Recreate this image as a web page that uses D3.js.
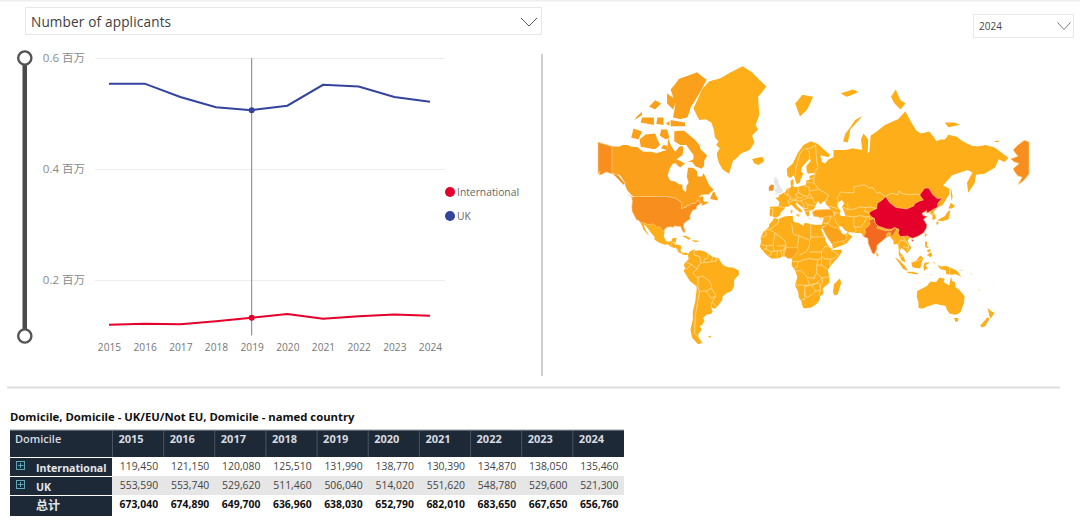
<!DOCTYPE html>
<html><head><meta charset="utf-8">
<script src="https://cdn.jsdelivr.net/npm/d3@7"></script>
<style>
html,body{margin:0;padding:0;background:#fff;overflow:hidden}
svg{display:block}
text{font-family:"Open Sans","Noto Sans CJK SC",sans-serif}
</style></head><body>
<svg id="c" width="1080" height="529"></svg>
<script>
const years=[2015,2016,2017,2018,2019,2020,2021,2022,2023,2024];
const international=[119450,121150,120080,125510,131990,138770,130390,134870,138050,135460];
const uk=[553590,553740,529620,511460,506040,514020,551620,548780,529600,521300];
const totals=[673040,674890,649700,636960,638030,652790,682010,683650,667650,656760];
const yTicks=[0.2,0.4,0.6];
const selectedYear=2019;
const measureLabel="Number of applicants";
const yearLabel="2024";
const tableTitle="Domicile, Domicile - UK/EU/Not EU, Domicile - named country";
const tierColors={base:"#FDAE19",mid:"#FAA31A",canada:"#FAA01A",usa:"#F78E1E",india:"#F2691F",china:"#E4002B",ireland:"#F78E1E",none:"#E6E6E6",pale:"#FEDC96"};

// Hand-estimated geographic outlines [name, tier, "lon,lat ..."]
const landShapes=[
["Greenland","base","-73,78.2 -66,81 -60,82 -50,82.4 -42,83 -32,83.6 -24,83 -12,81.4 -19,80 -18,77 -21,75 -19,74 -24,72.5 -22,70.7 -26,68.5 -33,67.5 -37,65.8 -40,65 -42,62 -43,60 -46,60.8 -49,62 -51.5,64 -53,66 -53.5,67.5 -51,69 -54,70 -52,71 -55,72 -56,74 -58,75.5 -63,76.2 -68,76"],
["Canada","canada","-141,69.6 -135,69.5 -132,70 -128,70 -125,69.5 -120,69.4 -115,68 -108,68 -104,67.5 -100,68 -95,68.5 -94,71.9 -92,70 -90,68.8 -88,68 -85,69.5 -82,69.7 -81.5,68.5 -82,67 -87,65.5 -86,64 -90,64 -93,62 -94.5,59 -92.5,57 -88,56.5 -85,55.3 -82.3,55 -82,52.9 -79.5,51.3 -79,52 -78.8,54.5 -77,56 -78.5,58.7 -77.5,62.4 -73,62.3 -70,61 -69.5,58.8 -66,58.7 -64.5,60.3 -62,57.5 -60,55 -56,52.5 -58.5,51.3 -60,50.2 -66,50 -69,48.5 -65,49.2 -64.5,48 -65,47 -64,46 -61,46 -60,46.5 -61,45.3 -66,43.7 -66,45 -67.5,45.3 -69.2,47.4 -71,45.3 -74.7,45 -76.5,44 -79,43.5 -79,42.8 -83,42 -82.5,45.3 -84.5,46.5 -88.5,48.2 -95,49 -123,49 -125,50 -128,52 -130,54.5 -130,56 -133.5,58.8 -135.5,59.7 -137.5,59 -139,60 -141,60.3"],
["Baffin","canada","-61.5,66.7 -64,65 -64,63.3 -66,62 -71,62.8 -74,64.5 -78,64.5 -73,65.5 -73,67 -76,68.5 -79,70 -84,70 -89,71 -89,73.5 -85,73.7 -81,73.7 -77,72.8 -72,71.5 -68,70 -67,68.7 -63,67.3"],
["Ellesmere","canada","-90,76.5 -84,76.2 -78,76.5 -75,78.5 -68,80.5 -62,82.2 -70,83 -85,82.3 -92,81 -88,79"],
["Devon","canada","-92,76 -80,75.5 -80,74.7 -92,74.7"],
["Banks","canada","-125,72 -123,74.2 -116,73.5 -119,71.5"],
["Victoria","canada","-117,69.5 -105,68.7 -101,70 -105,73 -113,72.8 -118,71.5"],
["Somerset","canada","-100,74 -95,74 -93,72 -96,71.5 -101,72.5"],
["Melville","canada","-117,75.5 -106,75 -106,76.5 -116,76.5"],
["Prince Patrick","canada","-122,76 -116,77 -116,77.6 -120,76.8"],
["Bathurst","canada","-104,75.2 -98,75 -98,76.5 -103,76.5"],
["Cornwallis","canada","-96,75.3 -93,74.8 -93,75.8"],
["King William","canada","-100,69 -95,68.5 -95,69.8 -98,70"],
["Axel Heiberg","canada","-95,80.5 -87,79.5 -90,78 -95,79"],
["Ellef Ringnes","canada","-110,78.5 -105,78 -100,79 -105,79.5"],
["Southampton","canada","-87,65.5 -80,64 -84,62.5 -87,63.5"],
["Newfoundland","canada","-59,47.7 -53,46.7 -52.7,47.6 -55.5,51.5 -57,51"],
["Vancouver","canada","-128,50.7 -123.5,48.4 -125,48.8"],
["Alaska","usa","-141,69.6 -141,60.3 -139,59.9 -135.5,59.2 -130,55.5 -131.5,55 -134,56.5 -137,58.3 -140,59.7 -146,60.7 -150,59.5 -152,59.5 -151,61 -154,59 -157,57 -162,55 -158.5,58.5 -162,59 -165,61 -166,62 -161,64 -165,64.5 -168,65.6 -162,66.5 -166,68.5 -162,70 -156.5,71.3 -150,70.5"],
["Hawaii","pale","-156,20.2 -155,19.7 -155.7,19"],
["United States","usa","-123,49 -95,49 -88.5,48.2 -84.5,46.5 -82.5,45.3 -83,42 -79,42.8 -79,43.5 -76.5,44 -74.7,45 -71,45.3 -69.2,47.4 -67.5,45.3 -67,44.8 -70,43.7 -70.5,41.7 -74,40.6 -75.5,38 -76,36.9 -75.5,35.2 -78,33.9 -81,32 -81.3,30 -80,27 -80.3,25.2 -81.8,26 -82.8,28 -84,30 -85.5,29.8 -89,30.3 -89.5,29.2 -92,29.6 -94.5,29.5 -97.2,27.7 -97.2,25.9 -99.5,27.5 -101.4,29.8 -103,29 -104.7,30 -106.5,31.8 -108.2,31.3 -111,31.3 -114.8,32.5 -117.2,32.5 -118.5,34 -120.6,34.6 -122,36.8 -124.2,40.2 -124.5,43 -124,46.5 -124.7,48.4"],
["Mexico and Central America","base","-117.2,32.5 -114.8,32.5 -111,31.3 -108.2,31.3 -106.5,31.8 -104.7,30 -103,29 -101.4,29.8 -99.5,27.5 -97.2,25.9 -97.8,22.4 -96,19 -94.5,18.2 -91.5,18.6 -90.5,21 -87,21.5 -87.8,18.3 -88.5,16 -86,15.9 -83.2,15 -83.7,11 -82.5,9.3 -79.8,9.5 -77.4,8.6 -78,7.5 -80,7.4 -83,8.3 -85.7,10 -87.5,13 -91.5,14 -94.5,16.2 -97,15.9 -101.5,17.5 -105.5,20 -105.5,22 -109,26 -112.5,30 -114.7,31.5 -113,27.5 -110,23.2 -112,24.7 -115,28 -116,30.5"],
["Cuba","base","-85,21.9 -80,23.2 -75,20.7 -77.5,19.9 -78,20.7 -82,22.5"],
["Hispaniola","base","-74.4,19.7 -69,19 -68.5,18.4 -71.5,17.8"],
["South America","base","-77.4,8.6 -75.5,10.7 -72,12.2 -71,11 -68,11.5 -64,10.5 -60.5,8.5 -57,6 -52,4.7 -50,1.5 -48,-1 -44,-2.7 -40,-3 -35.2,-5.5 -35,-9 -39,-13 -39,-18 -41,-22 -45,-23.5 -48.5,-26 -49,-29 -53.5,-34 -55,-35 -58.3,-34 -57,-36.5 -58,-38.4 -62,-39 -65,-41 -63.7,-42.7 -65.5,-45 -67.5,-46 -66,-48 -69,-50.5 -68.5,-52.5 -65.5,-54.8 -69,-55.5 -74,-52.5 -75.5,-48 -73.5,-42 -73.5,-37 -71.5,-30 -70.2,-20 -70.5,-18.3 -76,-14 -81,-6 -80,-3 -81,-1 -80,1 -78.5,2.5 -77,4 -77.5,7 -78,7.5"],
["Falkland","base","-61,-51.5 -58,-51.3 -59,-52.3"],
["Africa","base","-5.8,35.8 -2,35.1 3,36.9 10,37.3 10.2,34.3 11,33.2 15,32.3 19,30.3 20,32.5 25,31.7 29,31 32,31.2 34.2,31.2 34.9,29.5 34,27.8 33,28.5 32.5,30 35.5,24 37,21 37.5,18.5 39.5,15.3 43,12.2 43.2,11.5 51,12 50.8,9.5 47,4.5 42,-1 39.3,-5 40.5,-11 40.5,-15.5 35,-20 35.5,-24 32.8,-26 32.5,-28.5 30,-31.5 26,-34 20,-34.8 18.4,-34 17,-29.5 15,-27 14.5,-22.5 11.8,-17.5 13.8,-11 12.2,-6 9,-1 9.5,3.8 8.5,4.6 5.5,4.7 4,6.3 1,6 -2,4.8 -7.5,4.4 -10,6 -13.3,9 -15,11 -16.8,13 -17.4,14.7 -16.3,19 -17,21 -14.5,26 -10,29.5 -9.7,31.5 -6.8,34"],
["Madagascar","base","49.3,-12 50.5,-15.5 47.5,-24.5 45,-25.5 43.5,-23 44.5,-16.5"],
["Eurasia","base","-9,37 -9.4,38.8 -9,43 -1.8,43.4 -1.2,46 -4.7,48.3 -1.5,48.7 -1.5,49.7 1.6,50.8 3.8,51.4 5,53 8.5,53.8 8.2,55.5 8.2,57 10.5,57.7 10.5,55 11,54 14,54 18.5,54.7 21,55 21.2,57 24,57.2 24,59 28,59.7 30,60 25,60.2 22.5,60 21.5,61.5 21.3,63 25,65 24.2,65.8 21.5,64.5 17.5,62.5 17,61 18.8,60 16.5,57.5 16,56.2 14.3,55.5 13,55.5 11.5,58.5 10.5,59.3 8,58.1 5.5,59 5,62 10,64 14,67.5 19,70 25,71 31,70.3 41,67 40,66.2 33,66.8 34.5,64.5 37,64 40,65.5 44,66.2 44,68.5 54,68.5 60,69 68,68.5 67,71.5 69,73 73,71.5 72.5,67.5 74,68 75,72.5 80,73.5 87,75 98,76.2 104,77.7 113,73.8 117,73 124,73.5 128,72 130,71 133,71.5 137,71.5 140,72.7 147,72.2 152,71 160,69.7 165,69.6 171,70 178,69.3 180,68.9 -175,67.5 -170,66 -173,64.5 -178,65.5 179,62.5 170,60 163,59.5 162,56 156.5,51 155.5,56 160,60.5 156,61.5 143,59.3 135.5,54.7 141,53 140.5,50 135,44 130.7,42.5 127.5,39.8 129.4,37 129.3,35.2 126.5,34.5 126.7,37.5 125,38 125,39.7 121.5,39 122,40.7 118,39 119,37.3 122.5,37 119.3,35 122,31 121.5,28.5 119,25 114,22.3 110,21 108,21.6 105.8,19 109,13.5 107,10.5 105,8.7 104.8,10 100.5,13.5 99.3,10 103,5.5 104,1.5 101,2.8 98.5,8 98.5,12 97.5,16.5 94.3,16 94,19 91,22.5 88,21.7 86,20 80.3,15.5 80,12 78,8.2 76.5,9 73,17 72.7,21 69,22.3 67,25 61.5,25.2 57,25.7 54,26.7 50.7,30 48.5,30 50,26.5 51.5,24.5 54,24 56.3,26 56.8,24 59.8,22.5 55,17 52,15.7 43.5,12.7 42.7,16.5 39,21.5 35,28 34.9,29.5 34.2,31.2 35.9,36 32.5,36.1 30.5,36.7 27.5,37 26.3,39.5 29,41 31.5,41.2 36,41.3 41.6,41.5 38,44.5 37,46 39,47 35,46 33.5,44.5 30.8,46.5 28,42 26,40.8 23.5,40.3 24,38 22.8,36.6 21,38 19.5,41.5 18.5,42.4 14,45 12.4,45.4 13.5,43.5 18.5,40.2 16.5,39.9 15.7,38 16,39.5 15,40.2 12.2,41.8 8.8,44.4 6,43.1 3.2,43 3.2,41.8 0,39.8 -0.4,38 -2.2,36.7 -5.4,36.1 -6.5,36.9"],
["Great Britain","none","-5.5,50.1 1.4,51.2 1.7,52.7 0,53.5 -1.8,55.7 -2,57.6 -4,57.6 -3.2,58.6 -5,58.6 -6,56.5 -4.8,54.8 -3,54 -4.8,53 -5,51.7 -3,51.4"],
["Ireland","ireland","-10,52 -6.2,52.2 -6,53.8 -5.6,54.8 -8,55.2 -10,54"],
["Iceland","base","-24,65.5 -22,64 -18.5,63.4 -14,64.8 -15,66.3 -20,66"],
["Svalbard","base","12,79 16,76.7 22,78 27,80 18,80.3"],
["Franz Josef","base","50,80.5 60,81 65,80.7 55,80"],
["Novaya Zemlya","base","52,71 56,70.7 58,74 68,76.8 62,76 54,73"],
["Severnaya Zemlya","base","92,80 96,81 100,79.5 104,79 100,78 95,79"],
["New Siberian","base","137,75.5 145,75.5 150,75 140,74.5"],
["Wrangel","base","178.5,71 -178,71.2 -178,70.8 179,70.8"],
["Sicily","mid","12.5,38 15.6,38.2 15,36.7"],
["Sardinia","mid","8.3,41 9.7,41 9.5,39.1 8.5,39"],
["Crete","base","23.6,35.6 26.3,35.2 24,35"],
["Cyprus","base","32.4,35 34.5,35.6 33.5,34.6"],
["Honshu","base","130.9,34 135,33.6 140,35 141,38 141.5,41 140,40.5 136.8,37 132,35"],
["Hokkaido","base","140,42 143,42 145.5,43.5 142,45.5"],
["Kyushu","base","130,33.5 131.8,33 131,31 130,31.5"],
["Sakhalin","base","142,54.3 143.5,49 142.7,46.5 142,50"],
["Taiwan","base","121,25 122,24 120.8,22 120,23.5"],
["Hainan","china","109,20 111,19.7 109.7,18.2"],
["Luzon","base","120.5,18.5 122.2,18.3 122,15 124,13 120.6,13.8"],
["Visayas","base","122,11.5 125,12.5 125,10.5 123,9.5"],
["Mindanao","base","122,7.5 125.5,9.8 126.5,7 125,5.7"],
["Sumatra","base","95.3,5.5 98,4 104,-2 106,-5.9 102,-4 98.7,1"],
["Java","base","105.5,-6.5 110,-6.5 114.5,-7.7 114.5,-8.7 106,-7.5"],
["Borneo","base","109,1.5 111,1.7 113,3 116.5,7 119,5 117.7,1 116.5,-3.5 114,-3.5 110,-2.8"],
["Sulawesi","base","119.5,-5.5 119,-2.5 120,1 125,1.5 121,-1 123,-4.5 121,-4 120.5,-5.5"],
["New Guinea","base","131,-1 134,-2 138,-1.7 145,-4.5 147.5,-6 150.7,-10.5 146,-8.5 143,-9 138,-8.3 138,-5.5 133,-4"],
["Timor","pale","124,-9.7 127,-8.4 125,-8.6"],
["Flores","pale","119.5,-8.7 123,-8.3 122,-8.9"],
["Halmahera","base","127.5,1.8 128.5,1 128.2,-0.8"],
["Seram","pale","128,-3 130.5,-3.3 129,-3.5"],
["New Britain","pale","148,-5.8 152,-4.2 151.5,-5.5"],
["Solomon","pale","157,-7.5 160,-9.5 159,-8"],
["New Caledonia","pale","164,-20 167,-22 165.5,-21.7"],
["Fiji","pale","177.3,-18 178.6,-17.5 178.2,-18.3"],
["Australia","base","114,-22 113.5,-26 115,-31 115,-34.3 118,-35 124,-33 129,-31.6 134,-32.5 137.8,-33 138.5,-35.5 141,-38.3 146.3,-39 150,-37.4 153,-31 153.5,-26 149,-21 146,-19 145.5,-15 143,-14 142.5,-10.8 141.5,-13 140.8,-17.5 136,-15 136.7,-12.2 132.5,-11.3 129.5,-15 125,-14.5 122,-18"],
["Tasmania","base","144.7,-41 148.3,-41 148,-43 146,-43.6"],
["NZ North","base","172.8,-34.5 175.5,-36.5 178.5,-37.7 175.3,-41.6 174,-39.3"],
["NZ South","base","172.7,-40.5 174.3,-41.7 170.8,-45.9 168,-46.7 166.5,-45.8"],
["Sri Lanka","base","80,9.7 81.8,7.5 80.5,6 79.8,7.5"],
["Turkey","mid","26.2,40 29,41 31.5,41.2 36,41.3 41.6,41.5 44,40 44.8,37.3 42,37.2 36.5,36.7 35.9,36 32.5,36.1 30.5,36.7 27.5,37"],
["Saudi Arabia","mid","35,28 34.9,29.5 37,30 39,32 44,29 46.5,29 48,28.5 50,26.5 51.2,24.5 55,22.7 55,20 52,19 49,18.5 44,17.5 43,16.5 42.7,16.5 39,21.5"],
["Nigeria","mid","2.7,6.3 3.7,12 4,13.5 14,13.5 14.5,11 12,7 8.7,4.7 5.5,4.7 4,6.3"],
["China","china","73.5,39.5 80,42 80.5,45 85.5,47.5 87.5,49 91,45.5 96,42.7 105,41.7 111,43.5 111.8,45 116,46.5 119,47 116,49.8 120,53.3 123.5,53.5 127,50 131,47.7 135,48.4 131,45 131,42.7 128,41.7 124.3,40 121.5,39 122,40.7 118,39 119,37.3 122.5,37 119.3,35 122,31 121.5,28.5 119,25 114,22.3 110,21 108,21.6 106,22.8 102,22.4 99.5,22.5 98,25 98.7,27.8 95,29 92,27.8 88.5,28 81,30.3 78.7,32.5 78,35.5 75,37"],
["India","india","74,34.5 78,35.5 78.7,32.5 81,30.3 80.2,28.8 88,26.5 88.5,28 89,26.8 92,26.8 95,29 97,28 95,25 93.5,23 92.5,22 91.5,24 92,25 89.5,25.3 88,24 89,21.8 88,21.7 86,20 80.3,15.5 80,12 78,8.2 76.5,9 73,17 72.7,21 69,22.3 70,24.5 71,25.5 70,28 73,30 74.5,31.5"]
];
const caspianSea="47,45 51,47 53,45 51,43 53,40 54,37 50,37.3 49,38.5 50,40.5 47.5,43";
const borderLines=[
"28,59.7 27.5,56 31.5,53 34,52 40,49.7 38,47","47.5,43 48,46 47,48 50,51.5 55,51 61,51 61,54 70,55 74,53.5 77,53.5 80,51 83,51 87.5,49",
"87.5,49 92,50.8 98,50 98.5,52 102,50.5 107,50 114,50.3 116,49.8","40,43.5 48,41.8","28,59.7 28,60.5 31,62.5 30,65 29,70",
"12,59 12.2,61 14,64.5 16,67.5 20,69","24.2,65.8 23.7,68 21,69 25,69 29,70","-1.8,43.4 3.2,42.4","-8.8,42 -6.5,41.7 -7,37.2",
"2.5,51 6,49.5 8.2,49 7.5,47.6 6,46.3 7.5,44","6,49.5 6,51.8 7,53.4","9,54.8 10.5,54.6","14.2,53.9 15,51 12.2,50.3 13.8,48.6 13,47.5 7.5,47.6",
"15,51 19,49.5 22.5,49 24,50.5 23.5,54 19.5,54.4","7,45.9 10.5,46.9 13.7,46.5 13.7,45.6","13.7,46.5 16.5,46.5 22,48.2","13.8,48.6 17,48 19,49.5",
"22,48.2 26.5,48.2 28.2,45.5 29.5,45","20.3,46.1 22.5,44.3 28.5,43.7","20.5,40 26,41.3","19.5,42 22.5,42 22.5,44.3","16.5,46.5 19,45 19.5,42","21,56 28,56","24,58 27.5,57.8",
"23.5,52 31.5,52.7","24,50.5 26.5,48.2","44.8,37.3 44,39.5 46,39 48,39.5","45,36 46,33 48.5,30","42,37.2 41,34.5 39,32","35.5,32.3 39,32","35,29.5 37,30",
"44,40 46,39","52,19 53,16.7","55,22.7 56.3,24.5","61,36.5 61,31.3 63,27 61.5,25.2","61,29.5 66.5,29.5 70,33 71.5,36.5 74,37","74,34.5 74,37",
"54,37.2 61,36.5 66,37.5 71.5,36.5","55.8,45 56,41.5 61,41.5 66,43 71,42.5 74,43 80,42","71,42.5 70,40 74,39.5","51,43 56,41.3",
"100.5,20 98,16 99,11","100,20 105,18 107,15 106,11","102,14 107,14","102,22.4 104,19 107,15","100,6.5 102,6","125,38 128.3,38.5","109.5,1.5 115,3 118,4.3","141,-2.6 141,-9",
"-1.8,35 -2,32.5 -8.7,28","-8.7,27.5 -13,27.7 -12,23.5 -17,21.3","-8.7,27.3 -4.9,25 -6.5,15.5 -12,15 -16.5,16","-4.9,25 1,21 3.3,19 4.3,16 3.7,12",
"8.5,32.5 9.5,30 10,25 12,23.5 15,23 14,13.5","25,31.7 25,20","15,23 24,19.5 24,15.5 22,11 19,9 15.5,7.5","25,22 36.8,22","24,10 34,10","36.5,14.3 34,10 34,4.5",
"43,12.2 42,11.5 48,8 45,5 41.5,4 36,4.5 34,7","36.5,14.3 39.5,14.5 43,12.5","41,-1.7 41.5,4","34,4.5 34,-1 39.3,-4.8","30,-1 34,-1","30,-1 30,-8 34.5,-11.5 40.5,-10.5",
"12.2,-5.8 17,-5.5 22,-11 28,-12 28.5,-9 30,-8","30,-1 31,3.5 34,4.5","18.5,3.5 24,4.5 31,3.5","9.5,2.2 14,2.2 16,2 18.5,3.5","11,-4 14,-2 14,2.2","11.8,-17.3 24,-17.5 22,-11",
"24,-17.5 30,-15.7 34.5,-11.5","24,-17.5 20,-18.5 20,-28.5 17,-28.5","20,-22 20,-24.8 22,-27 26,-24.5 29.3,-22 25.5,-18","25.5,-18 30,-15.7 33,-16.5 33,-21.5 29.3,-22","33,-21.5 32,-25.5","35,-11.5 34.5,-16",
"-12,15 -12,12.3 -13.5,12.3 -15,11","-12,12.3 -8,10 -8,8 -10.5,6.5","-8,10 -5.5,10.5 -3,11 0,11 2.8,12.5 3.7,12","-3,11 -3,5","0,11 1,6","2.8,12.5 1.8,6.3","-6.5,15.5 -5.5,10.5","2.8,12.5 4,15 -3,15",
"-72,12 -72.5,7.5 -67.5,6 -67,1","-60.5,8.5 -61,5 -64,4 -64,1.2 -67,1","-67,1 -70,-4.2","-78.8,1.4 -75,-0.2 -70,-4.2","-80.3,-3.4 -78.5,-4.5 -75,-0.2","-70,-4.2 -73.5,-7.5 -70.5,-11 -69,-11",
"-69,-11 -69,-16 -69.5,-17.5 -70.4,-18.3","-69,-11 -65.3,-10 -60,-13.7 -58,-17 -58,-20 -62.5,-22 -66,-22 -68,-23","-69.5,-17.5 -68,-23 -70,-33 -71.5,-40 -72,-50 -69,-52","-58,-20 -55,-24 -54.5,-26 -58,-27.5 -62.5,-22",
"-53.5,-33.7 -57.5,-30.3 -58.3,-34","-54.5,-26 -57.5,-30.3","-57,6 -58,2","-54,5.5 -54.5,2.3","-52,4.7 -54.5,2.3 -58,2 -60,1.5 -64,1.2","-92,14.5 -91,17.5 -89,17.8 -88.5,16","-88.5,14 -85,11","-83,8.3 -83,10.5","-77.4,8.6 -77.9,7.2"
];

const svg=d3.select("#c");
const GRID="#EDEDED",AXIS="#777777",BLUE="#33439E",RED="#E4002B",DARK="#1E2937";

// Frame lines and controls
svg.append("rect").attr("x",0).attr("y",0).attr("width",1080).attr("height",1.5).attr("fill","#EEEEEE");
svg.append("rect").attr("x",25.5).attr("y",7.5).attr("width",516).attr("height",27).attr("fill","#fff").attr("stroke","#E8E8E8");
svg.append("text").attr("x",31).attr("y",27).attr("font-size",13.6).attr("fill","#404040").attr("letter-spacing",0.15).text(measureLabel);
const chev=(cx,cy,w,h,c)=>svg.append("path").attr("d",d3.line()([[cx-w,cy-h],[cx,cy+h],[cx+w,cy-h]])).attr("fill","none").attr("stroke",c).attr("stroke-width",1);
chev(529,22,8,4,"#555");
svg.append("rect").attr("x",973.5).attr("y",14.5).attr("width",100).attr("height",23).attr("fill","#fff").attr("stroke","#E8E8E8");
svg.append("text").attr("x",979).attr("y",30).attr("font-size",10).attr("fill","#444").text(yearLabel);
chev(1064,26,6.5,3.5,"#777");
svg.append("rect").attr("x",541).attr("y",54).attr("width",2).attr("height",322).attr("fill","#CFCFCF");
svg.append("rect").attr("x",7).attr("y",386.5).attr("width",1053).attr("height",2).attr("fill","#DEDEDE");

// Line chart
const x=d3.scalePoint().domain(years).range([109,430]);
const y=d3.scaleLinear().domain([0.1,0.6]).range([335.5,58]);
const plot=svg.append("g");
plot.selectAll("line.g").data(yTicks).join("line").attr("x1",95).attr("x2",445).attr("y1",d=>y(d)+.5).attr("y2",d=>y(d)+.5).attr("stroke",GRID);
plot.selectAll("text.yl").data(yTicks).join("text").attr("x",85).attr("y",d=>y(d)+4).attr("text-anchor","end").attr("font-size",11.5).attr("fill","#8a8a8a").text(d=>d3.format(".1f")(d)+" 百万");
const xAxis=d3.axisBottom(x).tickSize(0).tickPadding(0).tickFormat(d3.format("d"));
const xg=plot.append("g").attr("transform","translate(0,340)").call(xAxis);
xg.select(".domain").remove();
xg.selectAll("text").attr("font-size",10.2).attr("fill",AXIS).attr("dy",0).attr("y",11).style("font-family",'"Open Sans",sans-serif');
plot.append("line").attr("x1",x(selectedYear)).attr("x2",x(selectedYear)).attr("y1",58).attr("y2",335.5).attr("stroke","#8c8c8c").attr("stroke-width",1.1);
const line=d3.line().x((d,i)=>x(years[i])).y(d=>y(d/1e6));
[[uk,BLUE],[international,RED]].forEach(([s,c])=>{
  plot.append("path").attr("d",line(s)).attr("fill","none").attr("stroke",c).attr("stroke-width",2);
  plot.append("circle").attr("cx",x(selectedYear)).attr("cy",y(s[years.indexOf(selectedYear)]/1e6)).attr("r",3).attr("fill",c);
});
// legend
[["International",RED,192],["UK",BLUE,216]].forEach(([t,c,ly])=>{
  svg.append("circle").attr("cx",450).attr("cy",ly).attr("r",5).attr("fill",c);
  svg.append("text").attr("x",457).attr("y",ly+3.5).attr("font-size",10.3).attr("fill","#666").text(t);
});
// slider
svg.append("rect").attr("x",22.5).attr("y",58).attr("width",4.5).attr("height",278).attr("fill","#4A4A4A");
[58,336].forEach(cy=>svg.append("circle").attr("cx",24.8).attr("cy",cy).attr("r",6.6).attr("fill","#fff").attr("stroke","#555").attr("stroke-width",2.4));

// Map
const parse=s=>s.trim().split(/\s+/).map(p=>p.split(",").map(Number));
const densify=pts=>{const out=[];for(let i=0;i<pts.length-1;i++){const [a,b]=pts[i],[c,d]=pts[i+1];const n=Math.abs(c-a)>180?1:Math.max(1,Math.ceil(Math.max(Math.abs(c-a),Math.abs(d-b))/2));for(let k=0;k<n;k++)out.push([a+(c-a)*k/n,b+(d-b)*k/n]);}out.push(pts[pts.length-1]);return out;};
const polygon=s=>{const p=parse(s);p.push(p[0]);let ring=densify(p);let g={type:"Polygon",coordinates:[ring]};if(d3.geoArea(g)>2*Math.PI)g={type:"Polygon",coordinates:[ring.slice().reverse()]};return g;};
const projection=d3.geoMercator().rotate([-27.3,0]).scale(68.6).translate([813.5,264]);
const geo=d3.geoPath(projection);
const map=svg.append("g");
map.selectAll("path.land").data(landShapes).join("path").attr("d",d=>geo(polygon(d[2])))
  .attr("fill",d=>tierColors[d[1]]).attr("stroke",d=>d[1]==="china"||d[1]==="india"||d[1]==="usa"||d[1]==="mid"?"#FFD98F":"none").attr("stroke-width",.6);
map.append("path").attr("d",geo(polygon(caspianSea))).attr("fill","#fff");
map.selectAll("path.b").data(borderLines).join("path").attr("d",d=>geo({type:"LineString",coordinates:densify(parse(d))}))
  .attr("fill","none").attr("stroke","#FFDF9E").attr("stroke-width",.8);

// Table
svg.append("text").attr("x",10).attr("y",421).attr("font-size",11.3).attr("font-weight",700).attr("fill","#111").text(tableTitle);
const colX=d3.scaleLinear().domain([0,years.length]).range([112.5,624]);
svg.append("rect").attr("x",10).attr("y",430).attr("width",614).attr("height",27).attr("fill",DARK);
svg.append("rect").attr("x",10).attr("y",429.5).attr("width",614).attr("height",1).attr("fill","#9aa0a8");
svg.append("text").attr("x",15).attr("y",443).attr("font-size",11).attr("font-weight",600).attr("fill","#D8DCE0").text("Domicile");
years.forEach((yr,i)=>{
  svg.append("text").attr("x",colX(i)+6).attr("y",443).attr("font-size",11).attr("font-weight",700).attr("fill","#D8DCE0").text(yr);
  svg.append("rect").attr("x",colX(i)-.5).attr("y",431).attr("width",1).attr("height",26).attr("fill","#4A5462");
});
const rows=[
 {label:"International",vals:international,top:458,h:18,bg:"#fff",bold:false,plus:true},
 {label:"UK",vals:uk,top:477,h:18,bg:"#E6E6E6",bold:false,plus:true},
 {label:"总计",vals:totals,top:496,h:20,bg:"#fff",bold:true,plus:false}];
const fmt=d3.format(",");
rows.forEach(r=>{
  svg.append("rect").attr("x",112).attr("y",r.top-1).attr("width",512).attr("height",r.h+1).attr("fill",r.bg);
  svg.append("rect").attr("x",10).attr("y",r.top).attr("width",102).attr("height",r.h).attr("fill",DARK);
  svg.append("text").attr("x",36).attr("y",r.top+14).attr("font-size",r.plus?10.6:12).attr("font-weight",700).attr("fill","#E4E7EA").text(r.label);
  if(r.plus){
    svg.append("rect").attr("x",16.5).attr("y",r.top+3.5).attr("width",8).attr("height",8).attr("fill","none").attr("stroke","#5FA8B8");
    svg.append("path").attr("d",`M18 ${r.top+7.5}H23.5M20.5 ${r.top+5}V${r.top+10}`).attr("stroke","#5FA8B8");
  }
  r.vals.forEach((v,i)=>svg.append("text").attr("x",colX(i+1)-5.5).attr("y",r.top+12).attr("text-anchor","end").attr("font-size",10.4).attr("font-weight",r.bold?700:400).attr("fill",r.bold?"#111":"#444").text(fmt(v)));
});
</script>
</body></html>
